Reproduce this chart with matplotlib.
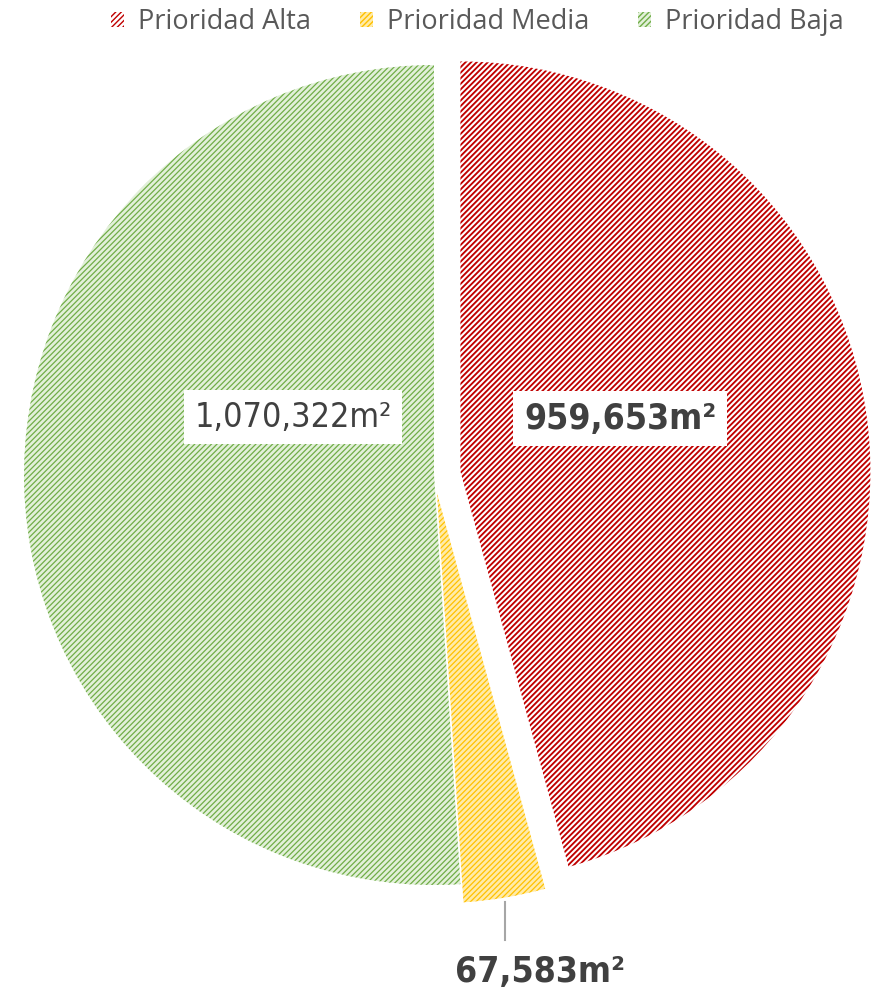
import matplotlib
matplotlib.use('Agg')
import matplotlib.pyplot as plt
from matplotlib import font_manager
import numpy as np

# datos del gráfico
categorias = ['Prioridad Alta', 'Prioridad Media', 'Prioridad Baja']
areas = [959653, 67583, 1070322]
etiquetas = [f'{v:,}m²' for v in areas]

fondo = ['#FFFFFF', '#FFEBA8', '#E2F0D9']
rayas = ['#C00000', '#FFC000', '#70AD47']
grosor = [1.35, 0.9, 0.9]
separacion = [0.065, 0.045, 0.0]

W, H = 871, 996
cx, cy, r = 434, 475, 410

# fuente estrecha para las etiquetas
nombres = [f.name for f in font_manager.fontManager.ttflist]
condensadas = [f.fname for f in font_manager.fontManager.ttflist if 'Condensed' in f.fname]
if 'Liberation Sans Narrow' in nombres:
    fuente, estir = ['Liberation Sans Narrow', 'DejaVu Sans'], 'normal'
elif any('DejaVuSansCondensed' in c for c in condensadas):
    fuente, estir = ['DejaVu Sans'], 'condensed'
else:
    fuente, estir = ['Roboto', 'DejaVu Sans'], 'normal'

plt.rcParams['hatch.linewidth'] = 1.0
fig = plt.figure(figsize=(W / 100, H / 100), dpi=100)
ax = fig.add_axes([(cx - r) / W, (H - cy - r) / H, 2 * r / W, 2 * r / H])

wedges, _ = ax.pie(areas, startangle=90, counterclock=False, explode=separacion,
                   radius=1.0)
for w, fc, ec, lw in zip(wedges, fondo, rayas, grosor):
    w.set_facecolor(fc)
    w.set_edgecolor(ec)
    w.set_linewidth(0)
    w.set_hatch('//////')
    if hasattr(w, 'set_hatch_linewidth'):
        w.set_hatch_linewidth(lw)

ax.set_xlim(-1, 1)
ax.set_ylim(-1, 1)
ax.set_aspect('equal')
ax.axis('off')

caja = dict(boxstyle='square,pad=0.3', fc='white', ec='none')

ax.text(0.454, 0.137, etiquetas[0], ha='center', va='center', fontsize=25.5,
        fontweight='bold', color='#404040', family=fuente, fontstretch=estir, bbox=caja)
ax.text(-0.344, 0.141, etiquetas[2], ha='center', va='center', fontsize=24.5,
        color='#404040', family=fuente, fontstretch=estir, bbox=caja)

# línea guía de la prioridad media desde el borde del sector
w = wedges[1]
th = np.deg2rad((w.theta1 + w.theta2) / 2)
x0 = w.center[0] + np.cos(th)
y0 = w.center[1] + np.sin(th)
ax.plot([x0, x0], [y0 - 0.01, -1.134], color='#A6A6A6', lw=1.5, clip_on=False)
ax.text(0.259, -1.212, etiquetas[1], ha='center', va='center', fontsize=25.5,
        fontweight='bold', color='#404040', family=fuente, fontstretch=estir,
        clip_on=False)

fig.legend(wedges, categorias, loc='center', bbox_to_anchor=(0.548, 0.978),
           ncol=3, frameon=False, handlelength=0.5, handleheight=0.5,
           handletextpad=0.5, columnspacing=1.8,
           prop={'family': ['Open Sans', 'DejaVu Sans'], 'size': 19.5},
           labelcolor='#595959')

fig.savefig('out.png', dpi=100)
